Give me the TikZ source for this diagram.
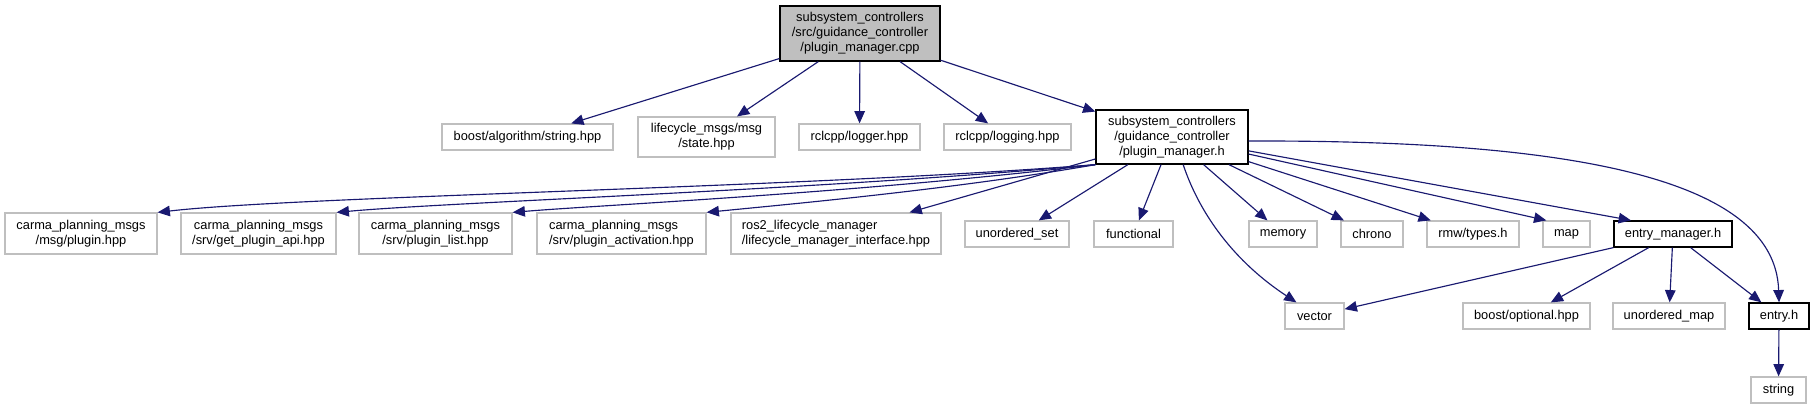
\documentclass[tikz,border=0pt]{standalone}
\usepackage{fontspec}
\setmainfont{Liberation Sans}
\usetikzlibrary{arrows.meta}
\definecolor{boxgray}{HTML}{BFBFBF}
\definecolor{edgeblue}{HTML}{191970}

\begin{document}
\begin{tikzpicture}[x=0.02cm,y=-0.02cm,>={Triangle[length=7pt,width=6pt]},
  font=\fontsize{7.3}{8.5}\selectfont,
  inc/.style={draw=boxgray,line width=0.7pt,inner sep=0pt,minimum height=0.52cm,align=center},
  hdr/.style={inc,draw=black,line width=0.75pt},
  edge/.style={->,draw=edgeblue,line width=0.65pt}]
\useasboundingbox (0,0) rectangle (1814,409);
% the source file
\node[hdr,fill=boxgray,minimum width=3.20cm,minimum height=1.10cm] (root) at (860,33.5) {subsystem\_controllers\\/src/guidance\_controller\\/plugin\_manager.cpp};
% first level
\node[inc,minimum width=3.42cm] (boostalg) at (527.5,137) {boost/algorithm/string.hpp};
\node[inc,minimum width=2.74cm,minimum height=0.80cm] (lifecycle) at (706.5,137) {lifecycle\_msgs/msg\\/state.hpp};
\node[inc,minimum width=2.42cm] (logger) at (859.5,137) {rclcpp/logger.hpp};
\node[inc,minimum width=2.54cm] (logging) at (1007.5,137) {rclcpp/logging.hpp};
\node[hdr,minimum width=3.04cm,minimum height=1.08cm] (pmh) at (1172,137) {subsystem\_controllers\\/guidance\_controller\\/plugin\_manager.h};
% second level
\node[inc,minimum width=3.04cm,minimum height=0.82cm] (carma1) at (81,233.5) {carma\_planning\_msgs\\/msg/plugin.hpp};
\node[inc,minimum width=3.10cm,minimum height=0.82cm] (carma2) at (258.5,233.5) {carma\_planning\_msgs\\/srv/get\_plugin\_api.hpp};
\node[inc,minimum width=3.06cm,minimum height=0.82cm] (carma3) at (435.5,233.5) {carma\_planning\_msgs\\/srv/plugin\_list.hpp};
\node[inc,minimum width=3.38cm,minimum height=0.82cm,align=left] (carma4) at (621.5,233.5) {carma\_planning\_msgs\\/srv/plugin\_activation.hpp};
\node[inc,minimum width=4.20cm,minimum height=0.82cm,align=left] (ros2) at (836,233.5) {ros2\_lifecycle\_manager\\/lifecycle\_manager\_interface.hpp};
\node[inc,minimum width=2.08cm] (uset) at (1017,234) {unordered\_set};
\node[inc,minimum width=1.58cm] (functional) at (1133.5,234) {functional};
\node[inc,minimum width=1.36cm] (memory) at (1283,234) {memory};
\node[inc,minimum width=1.24cm] (chrono) at (1372,234) {chrono};
\node[inc,minimum width=1.84cm] (rmw) at (1473,234) {rmw/types.h};
\node[inc,minimum width=0.94cm] (map) at (1566.5,234) {map};
\node[hdr,minimum width=2.36cm] (entrymgr) at (1673,234) {entry\_manager.h};
% third level
\node[inc,minimum width=1.18cm] (vector) at (1314.5,316) {vector};
\node[inc,minimum width=2.54cm] (boostopt) at (1526.5,316) {boost/optional.hpp};
\node[inc,minimum width=2.24cm] (umap) at (1669,316) {unordered\_map};
\node[hdr,minimum width=1.20cm] (entry) at (1779,316) {entry.h};
\node[inc,minimum width=1.10cm] (string) at (1778.5,390) {string};
% includes
\foreach \t in {boostalg,lifecycle,logger,logging,pmh} \draw[edge] (root) -- (\t);
\foreach \t in {ros2,uset,functional,memory,chrono,rmw} \draw[edge] (pmh) -- (\t);
\draw[edge] (pmh) -- (map.146);
\draw[edge] (pmh) -- (entrymgr.162);
\draw[edge] (pmh.south west) .. controls (800,188) and (300,196) .. (carma1.north east);
\draw[edge] (pmh.south west) .. controls (820,190) and (450,202) .. (carma2.north east);
\draw[edge] (pmh.south west) .. controls (860,193) and (600,205) .. (carma3.north east);
\draw[edge] (pmh.south west) .. controls (950,190) and (780,205) .. (carma4.north east);
\draw[edge] (pmh.-68) .. controls (1200,215) and (1235,262) .. (vector.143);
\draw[edge] (pmh.-3) .. controls (1560,140) and (1775,175) .. (entry.north);
\foreach \t in {vector,boostopt,umap,entry} \draw[edge] (entrymgr) -- (\t);
\draw[edge] (entry) -- (string);
\end{tikzpicture}
\end{document}
